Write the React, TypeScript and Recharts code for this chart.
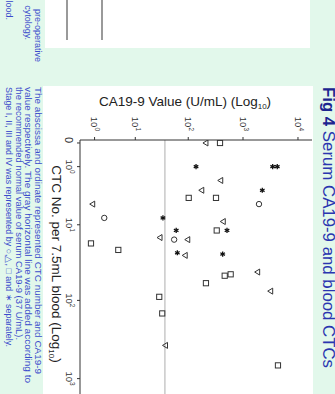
import React from 'react';
import { ScatterChart, Scatter, XAxis, YAxis, ReferenceLine } from 'recharts';

// stage I (circle)
const stage1Ctc = [5, 8, 16];
const stage1Ca = [1953, 2.0, 55];
// stage II (triangle)
const stage2Ctc = [0, 2, 3, 5, 9, 15, 16, 26, 43, 76, 377];
const stage2Ca = [211, 393, 177, 0.85, 437, 30, 98, 88, 1848, 3190, 38];
// stage III (square)
const stage3Ctc = [0, 4, 4, 12, 18, 22, 46, 48, 60, 90, 147, 678];
const stage3Ca = [381, 102, 322, 332, 0.72, 4.4, 596, 464, 211, 29, 33, 4325];
// stage IV (asterisk)
const stage4Ctc = [1, 1, 1, 3, 8, 12, 12, 24, 25];
const stage4Ca = [139, 3466, 4200, 2243, 34, 60, 511, 63, 426];

const ctcTicks = [0, 1, 10, 100, 1000];
const ctcTickExp = ['', '0', '1', '2', '3'];
const caTicks = [1, 10, 100, 1000, 10000];
const caTickExp = ['0', '1', '2', '3', '4'];
const normalCa = 37;

const MINT = '#e2f8eb';
const BLUE = '#3a4ccc';
const FONT = '"Liberation Sans", Arial, sans-serif';
const INK = '#333';

// both axes are log10(v + 1)
const lg = (v: number) => Math.log10(v + 1);
const toPoints = (ctc: number[], ca: number[]) => ctc.map((c, i) => ({ x: lg(c), y: lg(ca[i]) }));

const nearest = (ticks: number[], v: number) => {
  let best = 0;
  ticks.forEach((t, i) => {
    if (Math.abs(lg(t) - v) < Math.abs(lg(ticks[best]) - v)) best = i;
  });
  return best;
};

const CtcTick = (props: any) => {
  const { x, y, payload } = props;
  const i = nearest(ctcTicks, payload.value);
  if (ctcTickExp[i] === '') {
    return (
      <text x={x - 3} y={y} dy="0.75em" textAnchor="middle" fontSize={11} fill={INK} fontFamily={FONT}>0</text>
    );
  }
  return (
    <text x={x} y={y} dy="0.75em" textAnchor="middle" fontSize={9.5} fill={INK} fontFamily={FONT}>
      10<tspan fontSize={6.5} dy={-4}>{ctcTickExp[i]}</tspan>
    </text>
  );
};

const CaTick = (props: any) => {
  const { x, y, payload } = props;
  const i = nearest(caTicks, payload.value);
  return (
    <text x={x} y={y} dy="0.35em" textAnchor="end" fontSize={9.5} fill={INK} fontFamily={FONT}>
      10<tspan fontSize={6.5} dy={-4}>{caTickExp[i]}</tspan>
    </text>
  );
};

const Circle = ({ cx, cy }: any) => <circle cx={cx} cy={cy} r={2.7} fill="none" stroke={INK} strokeWidth={1} />;
const Square = ({ cx, cy }: any) => (
  <rect x={cx - 2.6} y={cy - 2.6} width={5.2} height={5.2} fill="none" stroke={INK} strokeWidth={1} />
);
const Triangle = ({ cx, cy }: any) => (
  <path d={`M${cx - 3},${cy - 2} L${cx + 3},${cy - 2} L${cx},${cy + 3} Z`} fill="none" stroke={INK} strokeWidth={1} />
);
const Asterisk = ({ cx, cy }: any) => (
  <g stroke="#111" strokeWidth={1.3}>
    <line x1={cx - 2.6} y1={cy} x2={cx + 2.6} y2={cy} />
    <line x1={cx - 1.3} y1={cy - 2.3} x2={cx + 1.3} y2={cy + 2.3} />
    <line x1={cx - 1.3} y1={cy + 2.3} x2={cx + 1.3} y2={cy - 2.3} />
  </g>
);

export default function App() {
  return (
    <div style={{ position: 'fixed', left: 0, top: 0, width: 335, height: 394, overflow: 'hidden', background: MINT }}>
      {/* page is drawn upright, then turned a quarter turn clockwise like the scan */}
      <div
        style={{
          position: 'absolute',
          left: 0,
          top: 0,
          width: 394,
          height: 335,
          transform: 'translate(335px, 0) rotate(90deg)',
          transformOrigin: '0 0',
        }}
      >
        <div style={{ position: 'absolute', left: 0, top: 25, width: 48, height: 265, background: '#fff' }} />
        <div style={{ position: 'absolute', left: 0, top: 232, width: 40, height: 2, background: '#9a9a9a' }} />
        <div style={{ position: 'absolute', left: 0, top: 267, width: 40, height: 2, background: '#9a9a9a' }} />
        <div style={{ position: 'absolute', left: 86, top: 22, width: 330, height: 270, background: '#fff' }} />

        <div style={{ position: 'absolute', left: 0, top: 0 }}>
          <ScatterChart width={410} height={335} margin={{ top: 23, right: 0, bottom: 0, left: 0 }}>
            <XAxis
              dataKey="x"
              type="number"
              domain={[-0.038, 3.4]}
              allowDataOverflow
              ticks={ctcTicks.map(lg)}
              interval={0}
              tick={<CtcTick />}
              tickSize={3}
              tickMargin={4}
              height={80}
              axisLine={{ stroke: INK }}
              tickLine={{ stroke: INK }}
            />
            <YAxis
              dataKey="y"
              type="number"
              domain={[0.036, 4.255]}
              allowDataOverflow
              ticks={caTicks.map(lg)}
              interval={0}
              tick={<CaTick />}
              tickSize={3}
              tickMargin={6}
              width={140}
              axisLine={{ stroke: INK }}
              tickLine={{ stroke: INK }}
            />
            <ReferenceLine y={lg(normalCa)} stroke="#c9c9c9" strokeWidth={1.5} />
            <Scatter data={toPoints(stage1Ctc, stage1Ca)} shape={<Circle />} isAnimationActive={false} />
            <Scatter data={toPoints(stage2Ctc, stage2Ca)} shape={<Triangle />} isAnimationActive={false} />
            <Scatter data={toPoints(stage3Ctc, stage3Ca)} shape={<Square />} isAnimationActive={false} />
            <Scatter data={toPoints(stage4Ctc, stage4Ca)} shape={<Asterisk />} isAnimationActive={false} />
          </ScatterChart>
        </div>

        <svg width={394} height={335} style={{ position: 'absolute', left: 0, top: 0, pointerEvents: 'none' }} fontFamily={FONT}>
          <text x={87} y={12.5} fontSize={16} fill="#2a35b0" textLength={281} lengthAdjust="spacingAndGlyphs">
            <tspan fontWeight="bold" fill="#1c2590">Fig 4</tspan> Serum CA19-9 and blood CTCs
          </text>

          <text transform="translate(106,150) rotate(-90)" textAnchor="middle" fontSize={13.5} fill="#222">
            CA19-9 Value (U/mL) (Log<tspan fontSize={8} dy={3}>10</tspan><tspan dy={-3}>)</tspan>
          </text>
          <text x={264} y={283} textAnchor="middle" fontSize={13.5} fill="#222">
            CTC No. per 7.5mL  blood (Log<tspan fontSize={8} dy={3}>10</tspan><tspan dy={-3}>)</tspan>
          </text>

          <g fontSize={9} fill={BLUE}>
            <text x={62} y={300} textAnchor="end">pre-operative</text>
            <text x={40} y={310} textAnchor="end">cytology.</text>
            <text x={20} y={329.5} textAnchor="end">lood.</text>

            <text x={87} y={300} textLength={287} lengthAdjust="spacingAndGlyphs">
              The abscissa and ordinate represented CTC number and CA19-9
            </text>
            <text x={87} y={310} textLength={296} lengthAdjust="spacingAndGlyphs">
              value respectively. The gray horizontal line was added according to
            </text>
            <text x={87} y={319.5} textLength={253} lengthAdjust="spacingAndGlyphs">
              the recommended normal value of serum CA19-9 (37 U/mL).
            </text>
            <text x={87} y={329.5} textLength={260} lengthAdjust="spacingAndGlyphs">
              Stage I, II, III and IV was represented by ○,△, □ and ∗ separately.
            </text>
          </g>
        </svg>
      </div>
    </div>
  );
}
